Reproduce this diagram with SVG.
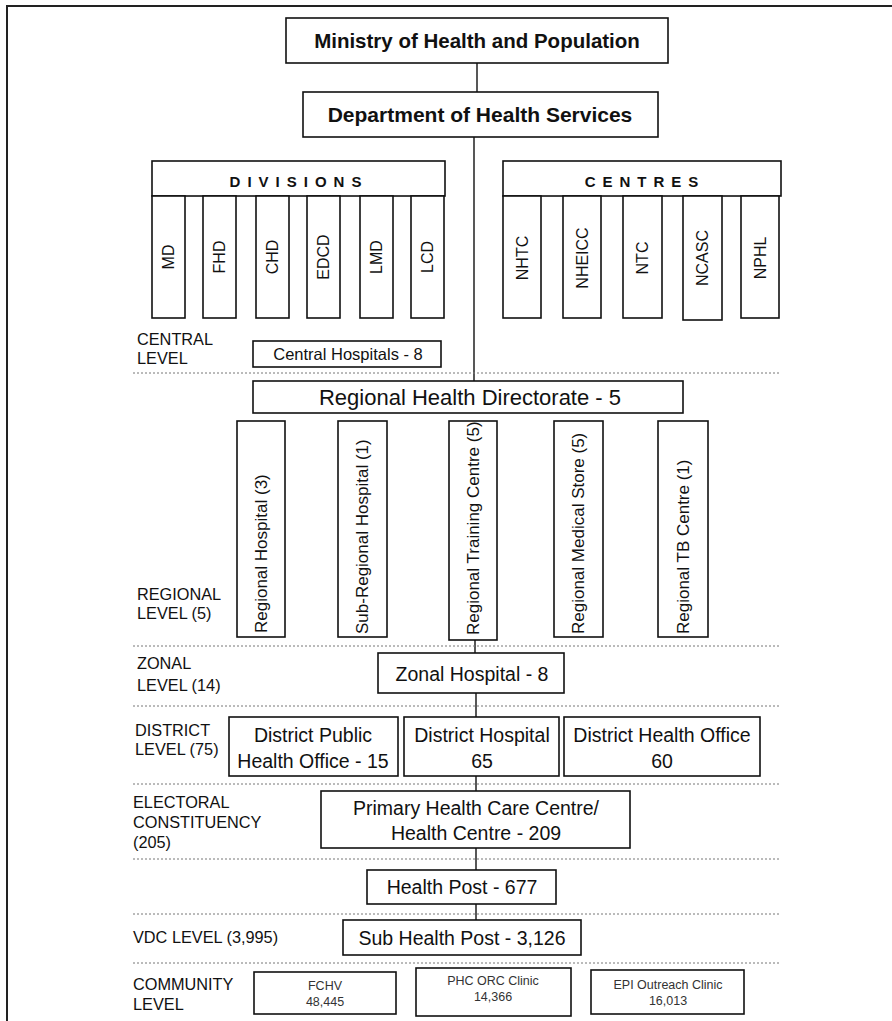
<svg xmlns="http://www.w3.org/2000/svg" width="892" height="1021" viewBox="0 0 892 1021">
<style>
text{font-family:"Liberation Sans",Arial,sans-serif;fill:#111}
.box{fill:#fff;stroke:#111;stroke-width:1.6}
.b{font-weight:bold;text-anchor:middle}
.c{text-anchor:middle}
.rot{font-size:16px;text-anchor:middle}
.rrot{font-size:17px;text-anchor:start}
.lvl{font-size:16.3px}
.dot{stroke:#777;stroke-width:1;stroke-dasharray:2,2;fill:none}
.ln{stroke:#111;stroke-width:1.4;fill:none}
.sm{font-size:12.5px;text-anchor:middle;fill:#333}
.bx{font-size:19.5px;text-anchor:middle}
</style>
<rect x="0" y="0" width="892" height="1021" fill="#fff"/>
<path d="M892,6 H7 V1021" fill="none" stroke="#222" stroke-width="2"/>

<g id="connectors">
<line class="ln" x1="477" y1="63" x2="477" y2="92"/>
<line class="ln" x1="474" y1="137" x2="474" y2="381"/>
<line class="ln" x1="475" y1="640" x2="475" y2="653"/>
<line class="ln" x1="476" y1="693" x2="476" y2="717"/>
<line class="ln" x1="476" y1="776" x2="476" y2="791"/>
<line class="ln" x1="476" y1="848" x2="476" y2="870"/>
<line class="ln" x1="476" y1="904" x2="476" y2="920"/>
</g>

<g id="level-separators">
<line class="dot" x1="133" y1="373" x2="780" y2="373"/>
<line class="dot" x1="133" y1="646" x2="780" y2="646"/>
<line class="dot" x1="133" y1="706" x2="780" y2="706"/>
<line class="dot" x1="133" y1="784" x2="780" y2="784"/>
<line class="dot" x1="133" y1="859" x2="780" y2="859"/>
<line class="dot" x1="133" y1="914" x2="780" y2="914"/>
<line class="dot" x1="133" y1="963" x2="780" y2="963"/>
</g>

<g id="level-labels" class="lvl">
<text x="137" y="345">CENTRAL</text><text x="137" y="364">LEVEL</text>
<text x="137" y="600">REGIONAL</text><text x="137" y="619">LEVEL (5)</text>
<text x="137" y="669">ZONAL</text><text x="137" y="691">LEVEL (14)</text>
<text x="135" y="736">DISTRICT</text><text x="135" y="755">LEVEL (75)</text>
<text x="133" y="808">ELECTORAL</text><text x="133" y="828">CONSTITUENCY</text><text x="133" y="848">(205)</text>
<text x="133" y="943">VDC LEVEL (3,995)</text>
<text x="133" y="990">COMMUNITY</text><text x="133" y="1010">LEVEL</text>
</g>

<g id="ministry"><rect class="box" x="286" y="18" width="382" height="45"/><text class="b" x="477" y="48" font-size="20.5">Ministry of Health and Population</text></g>
<g id="dohs"><rect class="box" x="303" y="92" width="355" height="45"/><text class="b" x="480" y="122" font-size="21">Department of Health Services</text></g>

<g id="divisions"><rect class="box" x="152" y="161" width="293" height="35"/><text class="b" x="299" y="187" font-size="15" letter-spacing="7">DIVISIONS</text></g>
<g id="div-md"><rect class="box" x="152" y="196" width="33" height="122"/><text class="rot" transform="translate(174,257) rotate(-90)">MD</text></g>
<g id="div-fhd"><rect class="box" x="203" y="196" width="33" height="122"/><text class="rot" transform="translate(225,257) rotate(-90)">FHD</text></g>
<g id="div-chd"><rect class="box" x="256" y="196" width="33" height="122"/><text class="rot" transform="translate(278,257) rotate(-90)">CHD</text></g>
<g id="div-edcd"><rect class="box" x="307" y="196" width="33" height="122"/><text class="rot" transform="translate(329,257) rotate(-90)">EDCD</text></g>
<g id="div-lmd"><rect class="box" x="360" y="196" width="33" height="122"/><text class="rot" transform="translate(382,257) rotate(-90)">LMD</text></g>
<g id="div-lcd"><rect class="box" x="411" y="196" width="33" height="122"/><text class="rot" transform="translate(433,257) rotate(-90)">LCD</text></g>

<g id="centres"><rect class="box" x="503" y="161" width="278" height="35"/><text class="b" x="645" y="187" font-size="15" letter-spacing="7">CENTRES</text></g>
<g id="c-nhtc"><rect class="box" x="503" y="196" width="38" height="122"/><text class="rot" transform="translate(528,258) rotate(-90)">NHTC</text></g>
<g id="c-nheicc"><rect class="box" x="563" y="196" width="38" height="122"/><text class="rot" transform="translate(588,258) rotate(-90)">NHEICC</text></g>
<g id="c-ntc"><rect class="box" x="623" y="196" width="39" height="122"/><text class="rot" transform="translate(648,258) rotate(-90)">NTC</text></g>
<g id="c-ncasc"><rect class="box" x="683" y="196" width="39" height="124"/><text class="rot" transform="translate(708,258) rotate(-90)">NCASC</text></g>
<g id="c-nphl"><rect class="box" x="741" y="196" width="38" height="122"/><text class="rot" transform="translate(766,258) rotate(-90)">NPHL</text></g>

<g id="central-hospitals"><rect class="box" x="253" y="341" width="188" height="26"/><text class="c" x="348" y="360" font-size="16.5">Central Hospitals - 8</text></g>

<g id="rhd"><rect class="box" x="253" y="381" width="430" height="32"/><text class="c" x="470" y="405" font-size="22">Regional Health Directorate - 5</text></g>

<g id="reg-hospital"><rect class="box" x="237" y="421" width="48" height="216"/><text class="rrot" transform="translate(267,633) rotate(-90)">Regional Hospital (3)</text></g>
<g id="sub-reg-hospital"><rect class="box" x="338" y="421" width="49" height="216"/><text class="rrot" transform="translate(368,634) rotate(-90)">Sub-Regional Hospital (1)</text></g>
<g id="reg-training"><rect class="box" x="449" y="421" width="48" height="219"/><text class="rrot" transform="translate(479,635) rotate(-90)">Regional Training Centre (5)</text></g>
<g id="reg-medical"><rect class="box" x="554" y="421" width="49" height="216"/><text class="rrot" transform="translate(584,634) rotate(-90)">Regional Medical Store (5)</text></g>
<g id="reg-tb"><rect class="box" x="658" y="421" width="50" height="216"/><text class="rrot" transform="translate(689,634) rotate(-90)">Regional TB Centre (1)</text></g>

<g id="zonal"><rect class="box" x="378" y="653" width="186" height="40"/><text class="bx" x="472" y="681">Zonal Hospital - 8</text></g>

<g id="dpho"><rect class="box" x="229" y="717" width="169" height="59"/><text class="bx" x="313" y="742">District Public</text><text class="bx" x="313" y="768">Health Office - 15</text></g>
<g id="dh"><rect class="box" x="404" y="717" width="155" height="59"/><text class="bx" x="482" y="742">District Hospital</text><text class="bx" x="482" y="768">65</text></g>
<g id="dho"><rect class="box" x="564" y="717" width="196" height="59"/><text class="bx" x="662" y="742">District Health Office</text><text class="bx" x="662" y="768">60</text></g>

<g id="phcc"><rect class="box" x="321" y="791" width="309" height="57"/><text class="bx" x="476" y="815">Primary Health Care Centre/</text><text class="bx" x="476" y="840">Health Centre - 209</text></g>

<g id="hp"><rect class="box" x="367" y="870" width="189" height="34"/><text class="bx" x="462" y="894">Health Post - 677</text></g>
<g id="shp"><rect class="box" x="343" y="920" width="238" height="35"/><text class="bx" x="462" y="945">Sub Health Post - 3,126</text></g>

<g id="fchv"><rect class="box" x="254" y="972" width="142" height="42"/><text class="sm" x="325" y="990">FCHV</text><text class="sm" x="325" y="1006">48,445</text></g>
<g id="phc-orc"><rect class="box" x="416" y="968" width="155" height="48"/><text class="sm" x="493" y="985">PHC ORC Clinic</text><text class="sm" x="493" y="1001">14,366</text></g>
<g id="epi"><rect class="box" x="591" y="970" width="153" height="44"/><text class="sm" x="668" y="989">EPI Outreach Clinic</text><text class="sm" x="668" y="1005">16,013</text></g>
</svg>
